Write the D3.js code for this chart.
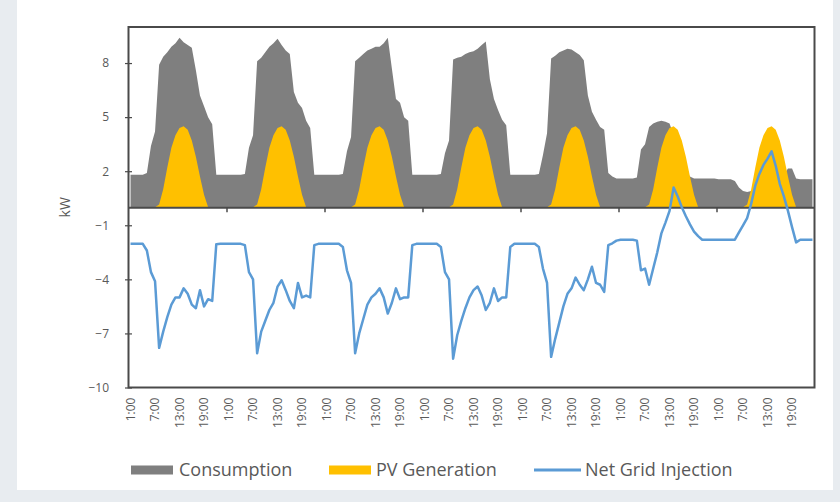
<!DOCTYPE html>
<html>
<head>
<meta charset="utf-8">
<script src="https://cdn.jsdelivr.net/npm/d3@7"></script>
<style>
  html, body { margin: 0; padding: 0; background: #e8ecf0; }
  svg { display: block; }
  text { font-family: "Open Sans", "Liberation Sans", sans-serif; }
</style>
</head>
<body>
<svg id="chart" width="840" height="502"></svg>
<script>
// Hour-of-day categories (one week, hourly)
const hourLabels = ["1:00","2:00","3:00","4:00","5:00","6:00","7:00","8:00","9:00","10:00","11:00","12:00",
                    "13:00","14:00","15:00","16:00","17:00","18:00","19:00","20:00","21:00","22:00","23:00","24:00"];
const dayCount = 7;

// Household consumption, kW, one row per day
const consumptionByDay = [
  [1.8,1.8,1.8,1.8,1.9,3.4,4.2,7.9,8.35,8.6,8.9,9.1,9.4,9.15,9.0,8.85,7.6,6.2,5.6,5.0,4.6,1.8,1.8,1.8],
  [1.8,1.8,1.8,1.8,1.85,3.3,4.0,8.1,8.3,8.6,8.9,9.1,9.35,9.0,8.7,8.5,6.4,5.8,5.5,4.8,4.4,1.8,1.8,1.8],
  [1.8,1.8,1.8,1.8,1.85,3.1,3.9,8.1,8.3,8.5,8.7,8.8,8.9,8.9,9.1,9.4,7.7,6.0,5.8,5.0,4.8,1.8,1.8,1.8],
  [1.8,1.8,1.8,1.8,1.85,3.0,3.7,8.2,8.3,8.35,8.5,8.6,8.65,8.8,9.0,9.2,7.1,6.0,5.4,4.85,4.55,1.8,1.8,1.8],
  [1.8,1.8,1.8,1.8,1.85,2.9,4.1,8.25,8.4,8.6,8.7,8.8,8.75,8.6,8.45,8.15,6.2,5.3,4.85,4.45,4.3,1.9,1.7,1.6],
  [1.6,1.6,1.6,1.6,1.65,3.2,3.5,4.45,4.65,4.75,4.8,4.75,4.65,4.0,3.2,2.5,2.0,1.7,1.6,1.6,1.6,1.6,1.6,1.6],
  [1.55,1.55,1.55,1.55,1.45,1.1,0.9,0.85,0.9,1.0,1.2,1.3,1.4,1.4,1.5,1.6,1.8,2.15,2.15,1.6,1.55,1.55,1.55,1.55]
];

// PV generation, kW, one row per day
const pvByDay = [
  [0,0,0,0,0,0,0,0.15,1.0,2.2,3.3,4.0,4.4,4.5,4.3,3.7,2.8,1.7,0.7,0,0,0,0,0],
  [0,0,0,0,0,0,0,0.15,1.0,2.2,3.3,4.0,4.4,4.5,4.3,3.7,2.8,1.7,0.7,0,0,0,0,0],
  [0,0,0,0,0,0,0,0.15,1.0,2.2,3.3,4.0,4.4,4.5,4.3,3.7,2.8,1.7,0.7,0,0,0,0,0],
  [0,0,0,0,0,0,0,0.15,1.0,2.2,3.3,4.0,4.4,4.5,4.3,3.7,2.8,1.7,0.7,0,0,0,0,0],
  [0,0,0,0,0,0,0,0.15,1.0,2.2,3.3,4.0,4.4,4.5,4.3,3.7,2.8,1.7,0.7,0,0,0,0,0],
  [0,0,0,0,0,0,0,0.15,1.0,2.2,3.3,4.0,4.4,4.5,4.3,3.7,2.8,1.7,0.7,0,0,0,0,0],
  [0,0,0,0,0,0,0,0.15,1.0,2.2,3.3,4.0,4.4,4.5,4.3,3.7,2.8,1.7,0.7,0,0,0,0,0]
];

// Net grid injection, kW (negative = drawn from grid), one row per day
const netByDay = [
  [-2.03,-2.03,-2.03,-2.03,-2.4,-3.6,-4.1,-7.8,-6.9,-6.1,-5.4,-5.0,-5.0,-4.5,-4.8,-5.4,-5.6,-4.6,-5.5,-5.1,-5.2,-2.05,-2.03,-2.03],
  [-2.03,-2.03,-2.03,-2.03,-2.1,-3.6,-4.0,-8.1,-6.9,-6.3,-5.7,-5.3,-4.4,-4.05,-4.6,-5.2,-5.6,-4.2,-5.0,-4.9,-5.0,-2.1,-2.03,-2.03],
  [-2.03,-2.03,-2.03,-2.03,-2.2,-3.5,-4.2,-8.1,-7.0,-6.2,-5.4,-5.0,-4.8,-4.5,-5.0,-5.9,-5.3,-4.5,-5.1,-5.0,-5.0,-2.1,-2.03,-2.03],
  [-2.03,-2.03,-2.03,-2.03,-2.2,-3.6,-4.0,-8.4,-7.1,-6.3,-5.6,-5.0,-4.6,-4.4,-4.9,-5.7,-5.3,-4.5,-5.2,-5.0,-5.0,-2.2,-2.03,-2.03],
  [-2.03,-2.03,-2.03,-2.03,-2.2,-3.4,-4.2,-8.3,-7.3,-6.4,-5.5,-4.8,-4.5,-3.9,-4.3,-4.6,-4.0,-3.3,-4.2,-4.3,-4.7,-2.1,-2.0,-1.85],
  [-1.8,-1.8,-1.8,-1.8,-1.85,-3.5,-3.4,-4.3,-3.4,-2.5,-1.45,-0.85,-0.2,1.1,0.6,0.0,-0.5,-0.95,-1.35,-1.6,-1.8,-1.8,-1.8,-1.8],
  [-1.8,-1.8,-1.8,-1.8,-1.8,-1.4,-1.0,-0.6,0.2,1.2,1.85,2.35,2.7,3.1,2.3,1.3,0.6,-0.2,-1.1,-1.95,-1.8,-1.8,-1.8,-1.8]
];

const yTickValues = [-10, -7, -4, -1, 2, 5, 8];
const labelEvery = 6;      // show every 6th hour on the category axis
const dayLength = 24;      // tick mark at each day boundary

const seriesNames = ["Consumption", "PV Generation", "Net Grid Injection"];
const colors = { consumption: "#7f7f7f", pv: "#ffc000", net: "#5b9bd5", text: "#595959", axis: "#4a4a4a" };

// flatten per-day rows into hourly series
const consumption = consumptionByDay.flat();
const pv = pvByDay.flat();
const net = netByDay.flat();
const categories = d3.range(dayCount).flatMap(d => hourLabels.map(h => ({ day: d, hour: h })));
const N = categories.length;

const svg = d3.select("#chart");

// white chart card on the slide background
svg.append("rect").attr("x", 17).attr("y", 0).attr("width", 816).attr("height", 490).attr("fill", "#ffffff");

const plot = { left: 128.5, right: 814.5, top: 27, bottom: 387.5 };

const xBand = d3.scaleBand().domain(d3.range(N)).range([plot.left, plot.right]);
const xc = i => xBand(i) + xBand.bandwidth() / 2;
const y = d3.scaleLinear().domain([-10, 10]).range([plot.bottom, plot.top]);

const area = d3.area().x((d, i) => xc(i)).y0(y(0)).y1(d => y(d));
const line = d3.line().x((d, i) => xc(i)).y(d => y(d));

svg.append("path").datum(consumption).attr("d", area).attr("fill", colors.consumption);
svg.append("path").datum(pv).attr("d", area).attr("fill", colors.pv);

// horizontal category axis crossing at zero, ticks at day boundaries
const xLin = d3.scaleLinear().domain([0, N]).range([plot.left, plot.right]);
const zeroAxis = svg.append("g").attr("transform", `translate(0,${y(0)})`)
  .call(d3.axisBottom(xLin).tickValues(d3.range(dayLength, N, dayLength)).tickSize(5).tickSizeOuter(0).tickFormat(""));
zeroAxis.select(".domain").attr("stroke", colors.axis).attr("stroke-width", 2);
zeroAxis.selectAll(".tick line").attr("stroke", colors.axis).attr("stroke-width", 1.5);

svg.append("path").datum(net).attr("d", line)
  .attr("fill", "none").attr("stroke", colors.net).attr("stroke-width", 2.5).attr("stroke-linejoin", "round");

// plot frame
svg.append("rect").attr("x", plot.left).attr("y", plot.top)
  .attr("width", plot.right - plot.left).attr("height", plot.bottom - plot.top)
  .attr("fill", "none").attr("stroke", colors.axis).attr("stroke-width", 2);

// value axis
const yAxis = svg.append("g").attr("transform", `translate(${plot.left + 3.5},0)`)
  .call(d3.axisLeft(y).tickValues(yTickValues).tickSize(7).tickPadding(16));
yAxis.select(".domain").remove();
yAxis.selectAll(".tick line").attr("stroke", colors.axis).attr("stroke-width", 1.2);
yAxis.selectAll(".tick text").attr("fill", colors.text).attr("font-size", 12)
  .attr("font-family", "'Open Sans', sans-serif");

svg.append("text").attr("transform", `translate(65,${y(0)}) rotate(-90)`)
  .attr("text-anchor", "middle").attr("dy", "0.35em")
  .attr("fill", colors.text).attr("font-size", 14).text("kW");

// hour labels under the plot
const xLabels = svg.append("g").attr("transform", `translate(0,${plot.bottom})`)
  .call(d3.axisBottom(xBand).tickValues(d3.range(0, N, labelEvery)).tickSize(0)
    .tickFormat(i => categories[i].hour));
xLabels.select(".domain").remove();
xLabels.selectAll(".tick text")
  .attr("transform", "rotate(-90)")
  .attr("text-anchor", "end").attr("x", -10).attr("y", 0).attr("dy", "0.35em")
  .attr("fill", colors.text).attr("font-size", 12).attr("font-family", "'Open Sans', sans-serif");

// legend
const legend = svg.append("g");
const legendY = 470;
const legendFont = 18;
legend.append("rect").attr("x", 131).attr("y", legendY - 4.5).attr("width", 42).attr("height", 9).attr("fill", colors.consumption);
legend.append("text").attr("x", 179).attr("y", legendY).attr("dy", "0.35em").attr("font-size", legendFont).attr("fill", colors.text).text(seriesNames[0]);
legend.append("rect").attr("x", 329).attr("y", legendY - 4.5).attr("width", 42).attr("height", 9).attr("fill", colors.pv);
legend.append("text").attr("x", 376).attr("y", legendY).attr("dy", "0.35em").attr("font-size", legendFont).attr("fill", colors.text).text(seriesNames[1]);
legend.append("line").attr("x1", 534).attr("x2", 581).attr("y1", legendY).attr("y2", legendY)
  .attr("stroke", colors.net).attr("stroke-width", 3);
legend.append("text").attr("x", 585).attr("y", legendY).attr("dy", "0.35em").attr("font-size", legendFont).attr("fill", colors.text).text(seriesNames[2]);
</script>
</body>
</html>
